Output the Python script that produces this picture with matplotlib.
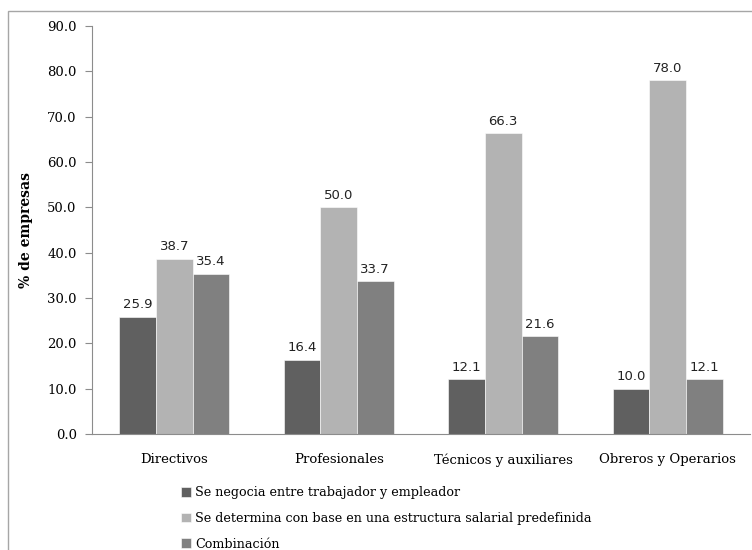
import matplotlib.pyplot as plt
import numpy as np
from matplotlib.patches import Rectangle

categorias = ["Directivos", "Profesionales", "Técnicos y auxiliares", "Obreros y Operarios"]
series = [
    "Se negocia entre trabajador y empleador",
    "Se determina con base en una estructura salarial predefinida",
    "Combinación",
]
negocia = [25.9, 16.4, 12.1, 10.0]
estructura = [38.7, 50.0, 66.3, 78.0]
combinacion = [35.4, 33.7, 21.6, 12.1]
colores = ["#606060", "#b3b3b3", "#808080"]

serif = "DejaVu Serif"
fig = plt.figure(figsize=(7.52, 5.5), dpi=100)
ax = fig.add_axes([92 / 752, 1 - 434 / 550, (750 - 92) / 752, (434 - 26) / 550])

# marco exterior del grafico
fig.patches.append(Rectangle((8 / 752, -0.1), 1.2, 1 - 11 / 550 + 0.1,
                             transform=fig.transFigure, fill=False,
                             edgecolor="#a6a6a6", linewidth=1.0))

x = np.arange(len(categorias))
w = 0.222
for i, (vals, nombre) in enumerate(zip([negocia, estructura, combinacion], series)):
    b = ax.bar(x + (i - 1) * w, vals, w, color=colores[i], label=nombre,
               edgecolor="white", linewidth=0.4)
    ax.bar_label(b, labels=[f"{v:.1f}" for v in vals], padding=4,
                 fontsize=9.5, family="DejaVu Sans", color="#222222")

ax.set_xlim(-0.5, len(categorias) - 0.5)
ax.set_ylim(0, 90)
ax.set_yticks(np.arange(0, 91, 10))
ax.set_yticklabels([f"{v:.1f}" for v in np.arange(0, 91, 10)], family=serif, fontsize=9.5)
ax.set_xticks(x)
ax.set_xticklabels(categorias, family=serif, fontsize=9.5)
ax.tick_params(axis="x", length=0, pad=14)
ax.tick_params(axis="y", length=5, color="#8c8c8c", pad=6)
for s in ["top", "right"]:
    ax.spines[s].set_visible(False)
for s in ["left", "bottom"]:
    ax.spines[s].set_color("#8c8c8c")
ax.set_ylabel("% de empresas", family=serif, fontweight="bold", fontsize=10, labelpad=10)

fig.legend(loc="upper left", bbox_to_anchor=(176 / 752, 1 - 481 / 550), frameon=False,
           prop={"family": serif, "size": 9.2}, handlelength=0.8, handleheight=0.8,
           handletextpad=0.3, labelspacing=1.0, borderaxespad=0)

fig.savefig("out.png", dpi=100)
